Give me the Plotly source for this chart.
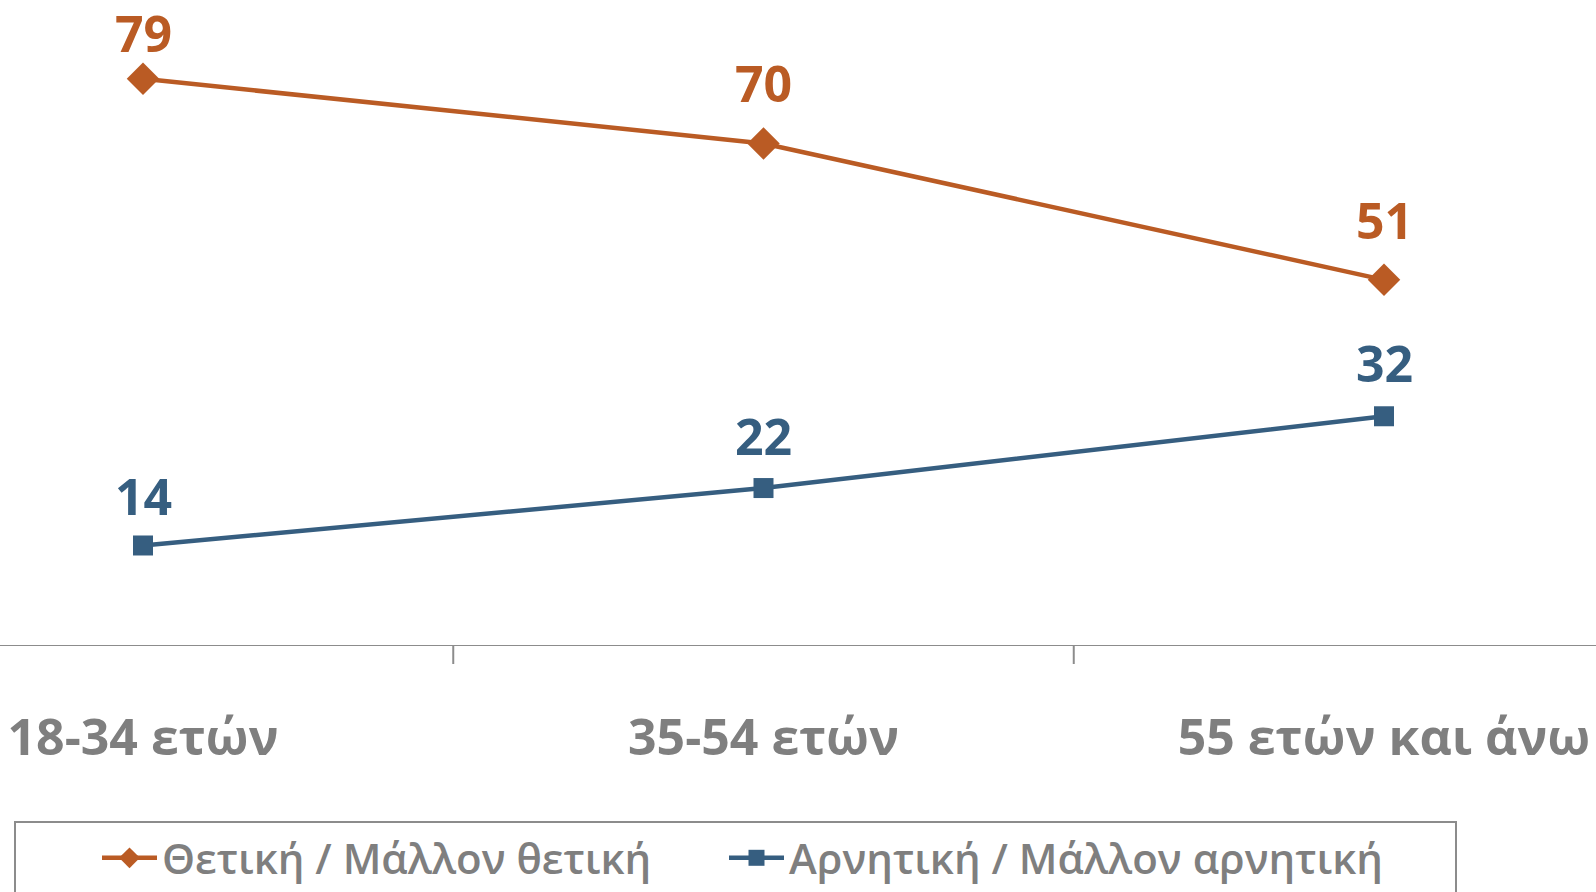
from plotly import graph_objects as go

# age groups and answers (%)
age_groups = ['18-34 ετών', '35-54 ετών', '55 ετών και άνω']
positive = [79, 70, 51]
negative = [14, 22, 32]
positive_name = 'Θετική / Μάλλον θετική'
negative_name = 'Αρνητική / Μάλλον αρνητική'

# how far (px) each value label sits above its marker
positive_label_shift = [10, 24, 24]
negative_label_shift = [13, 16, 17]

ORANGE = '#BA5B24'
BLUE = '#365E80'
GRAY = '#7F7F7F'
FONT = 'Open Sans'

W, H = 1596, 892
TOP, BOTTOM = 2, 646   # plot area in px
Y_MAX = 89.7


def add_series(fig, y, name, color, symbol, size, shifts, legend):
    xs = list(range(len(age_groups)))
    fig.add_trace(go.Scatter(
        x=xs,
        y=y,
        name=name,
        legend=legend,
        showlegend=True,
        mode='lines+markers',
        line=dict(color=color, width=4.5),
        marker=dict(symbol=symbol, size=size, color=color),
        cliponaxis=False,
    ))
    # value labels above the markers
    for xv, yv, s in zip(xs, y, shifts):
        fig.add_annotation(
            x=xv, y=yv, text=str(yv),
            showarrow=False, yanchor='bottom', yshift=s,
            font=dict(family=FONT, size=50, color=color, weight='bold'),
        )


fig = go.Figure()
add_series(fig, positive, positive_name, ORANGE, 'diamond', 25,
           positive_label_shift, 'legend')
add_series(fig, negative, negative_name, BLUE, 'square', 20,
           negative_label_shift, 'legend2')

# category centres at 143 and 1384 px, axis runs over the full width
px_per_cat = (1384 - 143) / 2
x0 = -143 / px_per_cat
x1 = 2 + (W - 1384) / px_per_cat

ph = BOTTOM - TOP


def legend_box(x_px):
    return dict(
        visible=True,
        orientation='h',
        x=x_px / W, xanchor='left',
        y=-(858 - BOTTOM) / ph, yanchor='middle',
        font=dict(family=FONT, size=42, color=GRAY, weight=600),
        itemwidth=55,
        bgcolor='rgba(0,0,0,0)',
        borderwidth=0,
    )


fig.update_layout(
    width=W, height=H,
    margin=dict(l=0, r=0, t=TOP, b=H - BOTTOM),
    plot_bgcolor='white',
    paper_bgcolor='white',
    font=dict(family=FONT, color=GRAY),
    showlegend=True,
    xaxis=dict(
        range=[x0, x1],
        tickmode='array',
        tickvals=[0, 1, 2],
        ticktext=age_groups,
        showgrid=False,
        zeroline=False,
        showline=False,
        ticks='',
        tickfont=dict(family=FONT, size=50, color=GRAY, weight='bold'),
        ticklabelstandoff=58,
    ),
    yaxis=dict(range=[0, Y_MAX], visible=False),
    legend=legend_box(97),
    legend2=legend_box(724),
    shapes=[
        # x axis line and the two category boundary ticks
        dict(type='line', xref='paper', yref='y', x0=0, x1=1, y0=0, y1=0,
             line=dict(color='#8C8C8C', width=2)),
        dict(type='line', xref='x', yref='paper', x0=0.5, x1=0.5,
             y0=0, y1=-18 / ph, line=dict(color='#8C8C8C', width=2)),
        dict(type='line', xref='x', yref='paper', x0=1.5, x1=1.5,
             y0=0, y1=-18 / ph, line=dict(color='#8C8C8C', width=2)),
        # legend frame
        dict(type='rect', xref='paper', yref='paper',
             x0=15 / W, x1=1456 / W,
             y0=-(822 - BOTTOM) / ph, y1=-(H + 20 - BOTTOM) / ph,
             line=dict(color='#8C8C8C', width=2)),
    ],
)

fig.write_html("out.html", config={'displayModeBar': False},
               post_script="document.body.style.margin='0';")
